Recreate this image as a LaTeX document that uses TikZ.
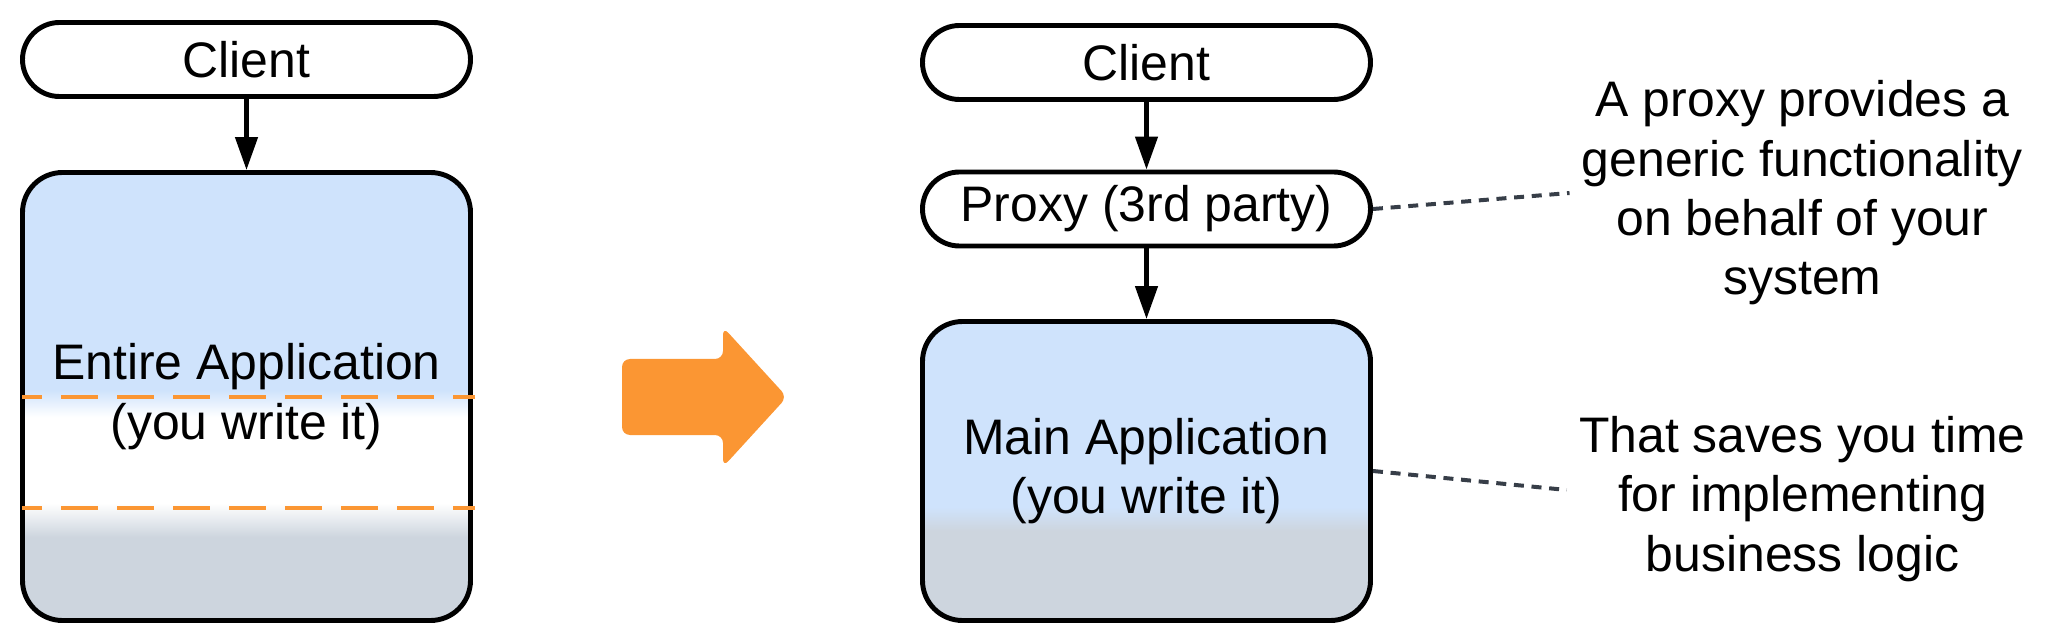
\documentclass[tikz,border=0pt]{standalone}
\usepackage{fontspec}
\setmainfont{Liberation Sans}
\usepackage{tikz}
\usetikzlibrary{arrows.meta, positioning}

\definecolor{appblue}{RGB}{207,227,252}
\definecolor{appgray}{RGB}{205,213,222}
\definecolor{cutorange}{RGB}{251,150,51}
\definecolor{linkgray}{RGB}{55,62,72}

% vertical shadings: first colour is the bottom, 25bp..75bp maps onto the box
\pgfdeclareverticalshading{entireshade}{100bp}{color(0bp)=(appgray); color(34.3bp)=(appgray);
  color(38.1bp)=(white); color(47.7bp)=(white); color(50.7bp)=(appblue); color(100bp)=(appblue)}
\pgfdeclareverticalshading{mainshade}{100bp}{color(0bp)=(appgray); color(40bp)=(appgray);
  color(44bp)=(appblue); color(100bp)=(appblue)}

\begin{document}
\begin{tikzpicture}[>={Triangle[length=3.3mm, width=2.2mm]},
      font=\fontsize{14.2}{16.9}\selectfont,
      pill/.style={draw, line width=1.4pt, fill=white, rounded corners=0.37cm,
                   minimum width=4.48cm, minimum height=0.74cm, inner sep=0pt},
      appbox/.style={draw, line width=1.4pt, shade, rounded corners=0.4cm,
                     minimum width=4.48cm, align=center},
      flow/.style={->, line width=1.3pt},
      cut/.style={cutorange, line width=0.04cm, dash pattern=on 0.37cm off 0.19cm, dash phase=0.17cm},
      link/.style={linkgray, line width=0.04cm, dash pattern=on 0.1cm off 0.077cm},
      note/.style={align=center}]

    \useasboundingbox (0,0) rectangle (20.49,-6.41);

    % --- Left: one monolithic application ---
    \node[pill] (clientL) at (2.465,-0.595) {Client};
    \node[appbox, shading=entireshade, minimum height=4.48cm] (appL) at (2.465,-3.965)
        {Entire Application\\(you write it)};
    \draw[flow] (clientL) -- (appL);

    % dashed cuts through the application
    \draw[cut] (0.22,-3.97) -- (4.75,-3.97);
    \draw[cut] (0.22,-5.08) -- (4.75,-5.08);

    % --- Middle: transition arrow ---
    \fill[cutorange, rounded corners=0.08cm] (6.22,-3.59) -- (7.23,-3.59) -- (7.23,-3.27)
        -- (7.87,-3.97) -- (7.23,-4.67) -- (7.23,-4.35) -- (6.22,-4.35) -- cycle;

    % --- Right: proxy in front of the application ---
    \node[pill] (clientR) at (11.465,-0.625) {Client};
    \node[pill] (proxy) at (11.465,-2.09) {Proxy (3rd party)};
    \node[appbox, shading=mainshade, minimum height=2.99cm] (mainR) at (11.465,-4.71)
        {Main Application\\(you write it)};
    \draw[flow] (clientR) -- (proxy);
    \draw[flow] (proxy) -- (mainR);

    % --- Notes ---
    \node[note] (note1) at (18.025,-1.93)
        {A proxy provides a\\generic functionality\\on behalf of your\\system};
    \node[note] (note2) at (18.025,-4.99)
        {That saves you time\\for implementing\\business logic};

    \draw[link] (proxy.east) -- (note1.west);
    \draw[link] (mainR.east) -- ([yshift=0.09cm]note2.west);

\end{tikzpicture}
\end{document}
